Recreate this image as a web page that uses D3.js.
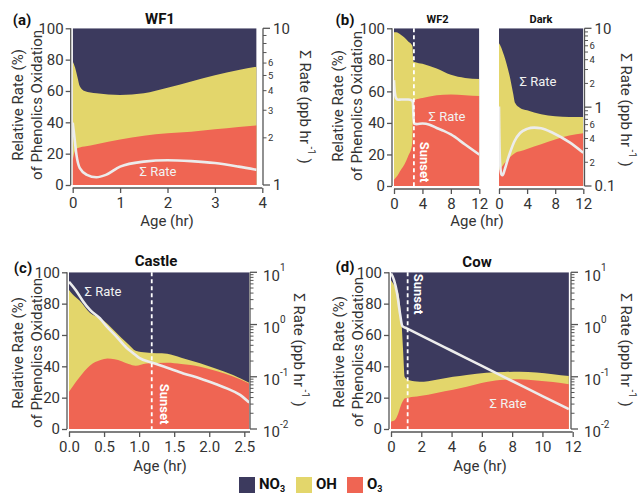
<!DOCTYPE html>
<html><head><meta charset="utf-8">
<script src="https://cdn.jsdelivr.net/npm/d3@7"></script>
<style>
body{margin:0;background:#fff}
svg{display:block}
text{font-family:Roboto,"Noto Sans",sans-serif}
</style></head>
<body><svg id="chart" width="639" height="494"></svg>
<script>
// ---------- DATA ----------
const seriesNames = ["NO3", "OH", "O3"];

// (a) WF1
const wf1Age  = [0, 0.05, 0.1, 0.15, 0.25, 0.5, 1, 1.5, 2, 2.5, 3, 3.5, 3.88];
const wf1O3   = [16, 22, 23.5, 24, 24.5, 26, 29, 31.5, 33, 34, 35.5, 37, 38];
const wf1OH   = [63, 53, 45.5, 39, 35.5, 32.5, 28.5, 27, 29, 32, 34.5, 36.4, 37.5];
const wf1NO3  = [21, 25, 31, 37, 40, 41.5, 42.5, 41.5, 38, 34, 30, 26.6, 24.5];
const wf1RateAge = [0, 0.03, 0.08, 0.15, 0.3, 0.5, 0.7, 1, 1.5, 2, 2.5, 3, 3.5, 3.88];
const wf1Rate    = [2.5, 2.1, 1.55, 1.28, 1.16, 1.12, 1.16, 1.31, 1.41, 1.44, 1.42, 1.38, 1.31, 1.25];

// (b) WF2
const wf2Age  = [0, 0.3, 1, 1.5, 2, 2.5, 2.6, 2.72, 3, 4, 6, 8, 10, 12];
const wf2O3   = [4, 5.5, 10.5, 14, 19, 25, 30, 54, 54.7, 55.8, 57.5, 58, 57.5, 57];
const wf2OH   = [93.5, 92, 85.3, 80, 72.6, 64.5, 58.5, 25, 23.8, 21.7, 17, 12.5, 11, 10.8];
const wf2NO3  = [2.5, 2.5, 4.2, 6, 8.4, 10.5, 11.5, 21, 21.5, 22.5, 25.5, 29.5, 31.5, 32.2];
const wf2RateAge = [0, 0.1, 0.3, 0.6, 1, 2, 2.5, 2.65, 2.8, 3.2, 4, 5, 6, 7, 8, 10, 12];
const wf2Rate    = [2.2, 1.6, 1.3, 1.24, 1.25, 1.25, 1.22, 1.15, 0.62, 0.61, 0.62, 0.6, 0.545, 0.5, 0.45, 0.336, 0.25];

// (b) Dark
const darkAge = [0, 0.3, 0.7, 1.1, 1.5, 2, 2.3, 3, 4, 6, 8, 10, 12];
const darkO3  = [10, 11.5, 14, 16, 18, 20, 21, 22, 23.5, 26.5, 29.5, 32, 33.5];
const darkOH  = [80.5, 76.5, 69, 61, 52, 39, 31.6, 27.5, 24.5, 19, 14.7, 11.8, 10.3];
const darkNO3 = [9.5, 12, 17, 23, 30, 41, 47.4, 50.5, 52, 54.5, 55.8, 56.2, 56.2];
const darkRateAge = [0, 0.05, 0.15, 0.35, 0.5, 0.8, 1.2, 1.6, 2.2, 3, 4, 5, 6, 7.7, 10, 12];
const darkRate    = [1.02, 0.45, 0.2, 0.14, 0.137, 0.16, 0.21, 0.27, 0.37, 0.47, 0.53, 0.55, 0.54, 0.47, 0.36, 0.264];

// (c) Castle
const castleAge = [0, 0.05, 0.15, 0.3, 0.45, 0.55, 0.65, 0.75, 0.85, 0.95, 1.1, 1.4, 1.6, 1.87, 2.1, 2.34, 2.57];
const castleO3  = [23.8, 27, 33, 40.5, 44, 45, 44.5, 43.3, 41.5, 40.4, 41.8, 42.3, 41.5, 39.8, 37, 33.5, 29];
const castleOH  = [64.9, 59, 49, 33.5, 26.5, 22, 18, 14.7, 12.5, 9.6, 7, 5.7, 4, 2.2, 1.5, 1, 0.5];
const castleNO3 = [11.3, 14, 18, 26, 29.5, 33, 37.5, 42, 46, 50, 51.2, 52, 54.5, 58, 61.5, 65.5, 70.5];
const castleRateAge = [0, 0.1, 0.2, 0.3, 0.44, 0.54, 0.68, 0.82, 0.92, 1.0, 1.19, 1.39, 1.63, 1.87, 2.1, 2.25, 2.44, 2.57];
const castleRate    = [6.6, 4.5, 2.8, 1.9, 1.32, 0.91, 0.58, 0.36, 0.28, 0.23, 0.186, 0.151, 0.116, 0.093, 0.072, 0.06, 0.045, 0.032];

// (d) Cow
const cowAge = [0, 0.26, 0.48, 0.7, 0.8, 0.9, 1.15, 1.9, 3, 4.1, 5, 6.3, 7.5, 8.5, 9.6, 10.7, 11.75];
const cowO3  = [4.7, 5.7, 9.9, 16.2, 18, 19.4, 20, 21, 23, 25, 27, 30, 31.5, 31.7, 31, 30, 28.5];
const cowOH  = [90.3, 85.3, 76.7, 51.2, 32, 13.9, 11.2, 9.1, 8.5, 8.3, 7.5, 5.9, 4.9, 4.8, 5, 5, 5.3];
const cowNO3 = [5, 9, 13.4, 32.6, 50, 66.7, 68.8, 69.9, 68.5, 66.7, 65.5, 64.1, 63.6, 63.5, 64, 65, 66.2];
const cowRateAge = [0, 0.2, 0.4, 0.6, 0.75, 1.04, 2, 4, 6, 8, 10, 11.75];
const cowRate    = [9.5, 7.1, 4.0, 1.58, 0.93, 0.845, 0.615, 0.315, 0.161, 0.083, 0.0425, 0.024];

// sunset ages
const sunsetWF2 = 2.8, sunsetCastle = 1.18, sunsetCow = 1.1;

// tick labels
const leftTicks = [0, 20, 40, 60, 80, 100];
const wf1XTicks = [0, 1, 2, 3, 4];
const wf2XTicks = [0, 4, 8, 12];
const castleXTicks = [0, 0.5, 1.0, 1.5, 2.0, 2.5];
const cowXTicks = [0, 2, 4, 6, 8, 10, 12];

// ---------- STYLE ----------
const C = {NO3: "#3c3a5e", OH: "#e3d66b", O3: "#ef6553"};
const AX = "#555", TXT = "#333", LINE = "#ececec";

const svg = d3.select("#chart");
let clipN = 0;
let rightMinor = [];

function rows(age, o3, oh, no3) {
  return age.map((a, i) => ({age: a, O3: o3[i], OH: oh[i], NO3: no3[i]}));
}

function drawPlot(p) {
  const x = d3.scaleLinear().domain(p.xDomain).range(p.xRange);
  const y = d3.scaleLinear().domain([0, 100]).range(p.yRange);
  const yr = d3.scaleLog().domain(p.rateDomain).range(p.yRange);
  const data = rows(p.age, p.o3, p.oh, p.no3);
  const st = d3.stack().keys(["O3", "OH", "NO3"])(data);
  const id = "clip" + (clipN++);
  const x0 = x(p.age[0]), x1 = x(p.age[p.age.length - 1]);
  svg.append("clipPath").attr("id", id).append("rect")
    .attr("x", x0).attr("y", p.yRange[1]).attr("width", x1 - x0).attr("height", p.yRange[0] - p.yRange[1]);
  const g = svg.append("g").attr("clip-path", `url(#${id})`);
  const area = d3.area().x(d => x(d.data.age)).y0(y(0)).y1(d => y(d[1])).curve(d3.curveMonotoneX);
  [...st].reverse().forEach(layer => {
    g.append("path").datum(layer).attr("d", area).attr("fill", C[layer.key]);
  });
  const line = d3.line().x((d, i) => x(p.rateAge[i])).y(d => yr(d)).curve(d3.curveMonotoneX);
  g.append("path").datum(p.rate).attr("d", line).attr("fill", "none")
    .attr("stroke", LINE).attr("stroke-width", 2.6);
  if (p.sunset !== undefined) {
    svg.append("line").attr("x1", x(p.sunset)).attr("x2", x(p.sunset))
      .attr("y1", p.yRange[1]).attr("y2", p.yRange[0])
      .attr("stroke", "#fff").attr("stroke-width", 1.8).attr("stroke-dasharray", "4,3");
  }
  const by = p.yRange[0] + 3;
  const bg = svg.append("g").attr("transform", `translate(0,${by})`)
    .call(d3.axisBottom(x).tickValues(p.xTicks).tickSize(5).tickSizeOuter(0).tickPadding(4)
      .tickFormat(p.xFmt || (d => d)));
  bg.select(".domain").remove();
  bg.append("line").attr("x1", x(p.xTicks[0])).attr("x2", p.axisRight || x(p.xTicks[p.xTicks.length - 1]))
    .attr("stroke", AX).attr("stroke-width", 1.3);
  bg.selectAll(".tick line").attr("stroke", AX).attr("stroke-width", 1.3);
  bg.selectAll(".tick text").attr("fill", TXT).attr("font-size", 15);
  if (p.left) {
    const lx = p.xRange[0] - 2;
    const lg = svg.append("g").attr("transform", `translate(${lx},0)`)
      .call(d3.axisLeft(y).tickValues(leftTicks).tickSize(5).tickSizeOuter(0).tickPadding(2));
    lg.select(".domain").remove();
    lg.append("line").attr("y1", p.yRange[0]).attr("y2", p.yRange[1]).attr("stroke", AX).attr("stroke-width", 1.3);
    lg.selectAll(".tick line").attr("stroke", AX).attr("stroke-width", 1.3);
    lg.selectAll(".tick text").attr("fill", TXT).attr("font-size", 15);
  }
  return {x, y, yr};
}

function rightAxis(ax, yr, yRange, mode) {
  const g = svg.append("g").attr("transform", `translate(${ax},0)`);
  g.append("line").attr("y1", yRange[0]).attr("y2", yRange[1]).attr("stroke", AX).attr("stroke-width", 1.3);
  const [lo, hi] = yr.domain();
  const e0 = Math.round(Math.log10(lo)), e1 = Math.round(Math.log10(hi));
  for (let e = e0; e <= e1; e++) {
    for (let m = 1; m <= 9; m++) {
      const v = m * Math.pow(10, e);
      if (v > hi * 1.0001) break;
      const yy = yr(v);
      const major = m === 1;
      g.append("line").attr("x1", 0).attr("x2", major ? 7 : 3.5).attr("y1", yy).attr("y2", yy)
        .attr("stroke", AX).attr("stroke-width", major ? 1.3 : 1);
      if (mode === "plain") {
        if (major) {
          g.append("text").attr("x", 10).attr("y", yy).attr("dy", "0.36em").attr("font-size", 15)
            .attr("fill", TXT).text(v < 1 ? "0.1" : String(v));
        } else if (rightMinor.includes(m)) {
          g.append("text").attr("x", 5).attr("y", yy).attr("dy", "0.36em").attr("font-size", 9.5)
            .attr("fill", TXT).text(String(m));
        }
      }
      if (mode === "exp" && major) {
        const t = g.append("text").attr("x", 13).attr("y", yy).attr("dy", "0.55em").attr("font-size", 15).attr("fill", TXT);
        t.append("tspan").text("10");
        t.append("tspan").attr("font-size", 10).attr("dy", "-0.95em").text(String(e));
      }
    }
  }
}

function title(x, y, s, size) {
  svg.append("text").attr("x", x).attr("y", y).attr("text-anchor", "middle").attr("dominant-baseline", "middle")
    .attr("font-weight", "bold").attr("font-size", size).attr("fill", "#111").text(s);
}
function tag(x, y, s) {
  svg.append("text").attr("x", x).attr("y", y).attr("text-anchor", "middle").attr("dominant-baseline", "middle")
    .attr("font-weight", "bold").attr("font-size", 15).attr("fill", "#111").text(s);
}
function leftTitle(x1, x2, cy) {
  [["Relative Rate (%)", x1], ["of Phenolics Oxidation", x2]].forEach(([s, xx]) => {
    svg.append("text").attr("transform", `translate(${xx},${cy}) rotate(-90)`).attr("text-anchor", "middle")
      .attr("dominant-baseline", "middle").attr("font-size", 15).attr("fill", TXT).text(s);
  });
}
function rightTitle(x, cy) {
  const t = svg.append("text").attr("transform", `translate(${x},${cy}) rotate(90)`).attr("text-anchor", "middle")
    .attr("font-size", 15).attr("fill", TXT).attr("dy", "0.35em");
  t.append("tspan").text("Σ Rate (ppb hr");
  t.append("tspan").attr("font-size", 10).attr("dy", "-0.8em").text(" -1");
  t.append("tspan").attr("dy", "0.55em").text(" )");
}
function xTitle(x, y) {
  svg.append("text").attr("x", x).attr("y", y).attr("text-anchor", "middle").attr("dominant-baseline", "middle")
    .attr("font-size", 15).attr("fill", TXT).text("Age (hr)");
}
function rateLabel(x, y) {
  svg.append("text").attr("x", x).attr("y", y).attr("text-anchor", "middle").attr("dominant-baseline", "middle")
    .attr("font-size", 13).attr("fill", "#f2f2f2").text("Σ Rate");
}
function sunsetLabel(x, y) {
  svg.append("text").attr("transform", `translate(${x},${y}) rotate(90)`).attr("text-anchor", "middle")
    .attr("dominant-baseline", "middle").attr("font-size", 13).attr("font-weight", "bold").attr("fill", "#fff").text("Sunset");
}

// ---------- (a) WF1 ----------
const sa = drawPlot({age: wf1Age, o3: wf1O3, oh: wf1OH, no3: wf1NO3, rateAge: wf1RateAge, rate: wf1Rate,
  xDomain: [0, 4], xRange: [72.7, 262.3], yRange: [185, 28.3], rateDomain: [1, 10], xTicks: wf1XTicks, left: true});
rightMinor = [2, 3, 4, 5, 6];
rightAxis(263, sa.yr, [185, 28.3], "plain");
tag(22, 21, "(a)"); title(160, 20, "WF1", 15);
leftTitle(19, 38.5, 105); rightTitle(305, 107); xTitle(167, 222);
rateLabel(158, 173);

// ---------- (b) WF2 + Dark ----------
const sb1 = drawPlot({age: wf2Age, o3: wf2O3, oh: wf2OH, no3: wf2NO3, rateAge: wf2RateAge, rate: wf2Rate,
  xDomain: [0, 12], xRange: [394, 479.3], yRange: [186, 28.3], rateDomain: [0.1, 10], xTicks: wf2XTicks, left: true,
  sunset: sunsetWF2});
const sb2 = drawPlot({age: darkAge, o3: darkO3, oh: darkOH, no3: darkNO3, rateAge: darkRateAge, rate: darkRate,
  xDomain: [0, 12], xRange: [499, 583.3], yRange: [186, 28.3], rateDomain: [0.1, 10], xTicks: wf2XTicks, left: false});
rightMinor = [2, 4, 6];
rightAxis(584.5, sb2.yr, [186, 28.3], "plain");
tag(345, 21, "(b)"); title(437.5, 20, "WF2", 11); title(541, 20, "Dark", 11);
leftTitle(339, 358.5, 106); rightTitle(626.5, 110); xTitle(477, 222);
rateLabel(447, 118); rateLabel(538, 83);
sunsetLabel(423.5, 162);

// ---------- (c) Castle ----------
const sc = drawPlot({age: castleAge, o3: castleO3, oh: castleOH, no3: castleNO3, rateAge: castleRateAge, rate: castleRate,
  xDomain: [0, 2.5], xRange: [69, 244.3], yRange: [429, 272.3], rateDomain: [0.01, 10], xTicks: castleXTicks, left: true,
  xFmt: d3.format(".1f"), sunset: sunsetCastle, axisRight: 250});
rightAxis(250, sc.yr, [429, 272.3], "exp");
tag(23, 269, "(c)"); title(156, 262, "Castle", 15);
leftTitle(19, 38.5, 353); rightTitle(299, 350); xTitle(160, 467);
rateLabel(103, 293);
sunsetLabel(163.5, 404);

// ---------- (d) Cow ----------
const sd = drawPlot({age: cowAge, o3: cowO3, oh: cowOH, no3: cowNO3, rateAge: cowRateAge, rate: cowRate,
  xDomain: [0, 12], xRange: [391, 572.7], yRange: [429, 272.3], rateDomain: [0.01, 10], xTicks: cowXTicks, left: true,
  sunset: sunsetCow, axisRight: 572.7});
rightAxis(571, sd.yr, [429, 272.3], "exp");
tag(345, 268, "(d)"); title(477, 263, "Cow", 15);
leftTitle(340, 359.5, 352); rightTitle(626.5, 350); xTitle(480, 467);
rateLabel(508, 405);
sunsetLabel(417, 294);

// ---------- Legend ----------
const legX = [239, 296, 347];
const legKeys = ["NO3", "OH", "O3"];
legKeys.forEach((k, i) => {
  svg.append("rect").attr("x", legX[i]).attr("y", 477).attr("width", 16).attr("height", 16).attr("fill", C[k]);
  const t = svg.append("text").attr("x", legX[i] + 20).attr("y", 488.5).attr("font-size", 15)
    .attr("font-weight", "bold").attr("fill", "#111");
  if (k === "OH") t.text("OH");
  else {
    t.append("tspan").text(k.slice(0, k.length - 1));
    t.append("tspan").attr("font-size", 9).attr("dy", 3).text("3");
  }
});
</script></body></html>
